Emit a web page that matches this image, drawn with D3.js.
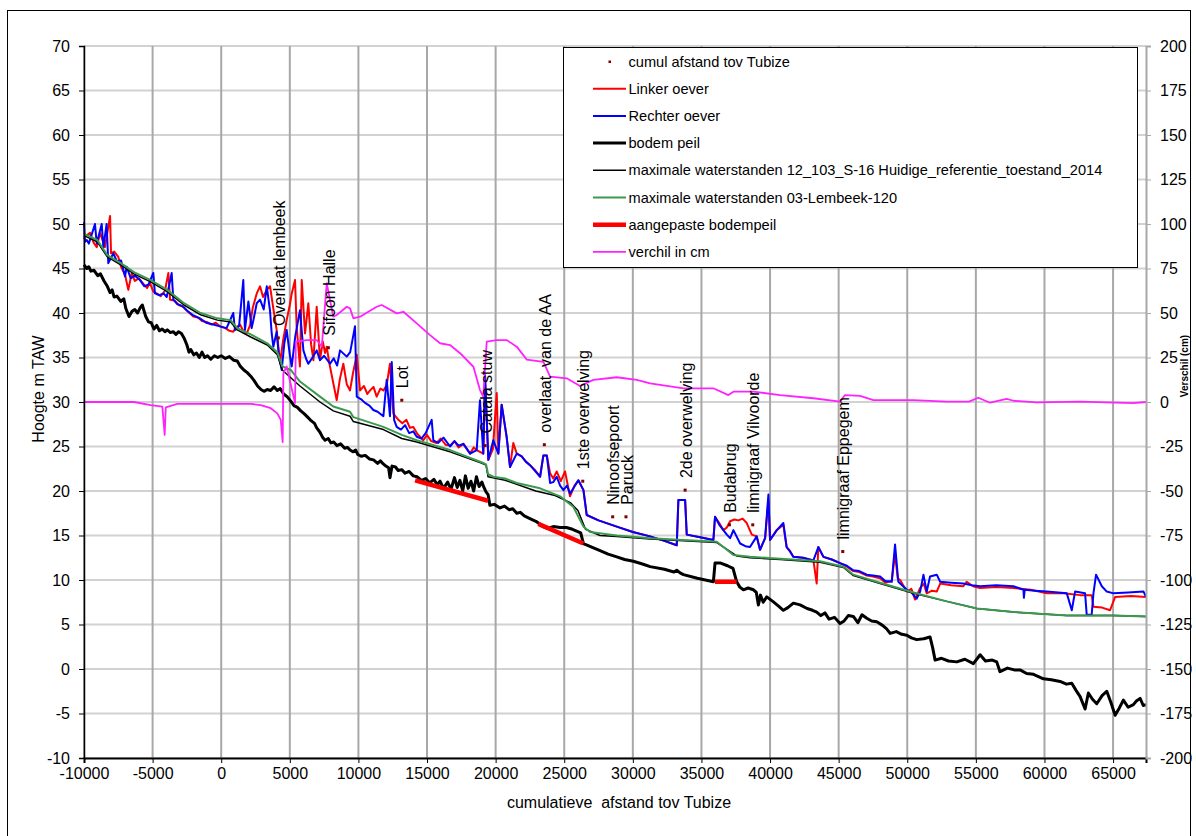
<!DOCTYPE html>
<html>
<head>
<meta charset="utf-8">
<script src="https://cdn.jsdelivr.net/npm/d3@7"></script>
<style>
  body { margin: 0; background: #fff; }
  svg { display: block; font-family: "Liberation Sans", Arial, sans-serif; }
  .lbl { white-space: pre; }
</style>
</head>
<body>
<div id="chart"></div>
<script>
// ---- data ----
// x = cumulatieve afstand tov Tubize (m), y = hoogte m TAW
const linkerOever = [[-10000,48.3],[-9930,48.6],[-9560,49.0],[-9300,47.9],[-9070,47.4],[-8830,49.0],[-8470,47.4],[-8100,50.9],[-8030,46.7],[-7800,46.9],[-7500,46.3],[-7300,45.2],[-7010,44.3],[-6770,42.6],[-6520,44.5],[-6300,43.6],[-6000,43.9],[-5680,43.3],[-5400,42.8],[-5200,43.4],[-4950,42.4],[-4700,42.2],[-4400,41.9],[-4100,42.5],[-3850,44.5],[-3730,41.5],[-3400,41.4],[-3100,40.9],[-2760,40.7],[-2400,40.1],[-2030,39.6],[-1700,39.5],[-1400,39.1],[-1060,39.0],[-700,38.7],[-400,38.9],[-90,38.5],[300,38.3],[600,38.0],[880,37.9],[1100,38.4],[1370,38.7],[1600,38.0],[1860,37.7],[2100,38.6],[2300,40.6],[2590,42.2],[2830,43.0],[3050,41.8],[3320,42.6],[3560,43.0],[3800,40.5],[4040,38.1],[4290,34.4],[4500,36.8],[4770,39.2],[5000,40.9],[5140,42.2],[5380,43.7],[5500,38.4],[5740,34.0],[5870,43.7],[6110,37.7],[6350,41.1],[6550,36.5],[6720,34.7],[6960,40.7],[7200,34.7],[7400,36.8],[7570,35.5],[7690,36.2],[7900,34.2],[8170,32.1],[8420,30.2],[8650,32.6],[8900,34.3],[9150,32.0],[9390,31.3],[9600,33.2],[9880,35.3],[10120,31.3],[10400,31.8],[10650,30.9],[10850,31.3],[11100,31.7],[11330,30.6],[11600,31.5],[11820,31.3],[12060,31.9],[12300,34.3],[12550,28.7],[12910,28.0],[13200,27.6],[13500,28.0],[13750,27.1],[14000,27.2],[14300,26.4],[14730,25.7],[15000,26.3],[15300,25.6],[15700,25.4],[16000,25.9],[16350,25.2],[16680,25.1],[17000,25.6],[17300,24.9],[17650,25.3],[18140,24.2],[18400,24.9],[18620,24.6],[19100,24.2],[19230,32.5],[19470,23.5],[19800,24.7],[20080,31.0],[20200,24.2],[20440,29.7],[20800,26.1],[21050,22.7],[21290,25.4],[21540,24.2],[21900,23.9],[22200,23.3],[22510,22.9],[22900,22.3],[23240,21.6],[23480,24.0],[23730,24.0],[23970,22.0],[24200,21.4],[24450,22.2],[24750,21.1],[25060,22.2],[25420,19.4],[25750,20.6],[26030,21.2],[26400,20.1],[26640,17.3],[27500,16.7],[28830,16.0],[30000,15.4],[31260,14.9],[32300,14.4],[33200,13.9],[33320,19.0],[33810,19.0],[33930,15.1],[34900,14.8],[35870,14.5],[35990,17.1],[36300,16.4],[36600,15.6],[36850,15.9],[37090,16.6],[37400,16.8],[37690,16.7],[38000,16.9],[38300,16.4],[38670,15.1],[39030,14.9],[39270,13.4],[39640,14.7],[39880,19.0],[40000,14.5],[40490,15.6],[40970,16.2],[41210,13.7],[41450,13.3],[41700,12.6],[42400,12.5],[43160,12.2],[43400,9.6],[43520,13.7],[43890,12.6],[44500,12.3],[45100,11.9],[45600,11.5],[46070,11.0],[46500,10.9],[47050,10.5],[47500,10.4],[48020,10.2],[48400,9.7],[48870,9.9],[49110,13.0],[49300,10.2],[49480,10.0],[49970,8.7],[50300,9.0],[50570,7.8],[50940,9.1],[51200,9.6],[51420,8.5],[51800,8.8],[52150,8.7],[52400,9.6],[53200,9.4],[54090,9.3],[54330,9.8],[54800,9.3],[55310,9.1],[56500,9.2],[57740,9.1],[59000,8.9],[60170,8.5],[61400,8.5],[62600,8.3],[63440,8.3],[63570,7.0],[64200,6.9],[64780,6.6],[65150,8.1],[66300,8.2],[67400,8.1]];

const rechterOever = [[-10000,50.2],[-9930,48.0],[-9800,48.2],[-9650,47.8],[-9200,50.0],[-9070,47.8],[-8710,50.0],[-8590,47.4],[-8350,50.0],[-8230,45.6],[-7860,46.7],[-7600,45.8],[-7300,45.9],[-7010,44.1],[-6890,45.2],[-6600,43.9],[-6300,44.2],[-5920,43.7],[-5600,43.0],[-5300,43.2],[-4950,44.5],[-4830,42.2],[-4500,42.0],[-4200,42.2],[-3970,41.8],[-3610,44.5],[-3490,41.5],[-3200,41.0],[-2850,40.8],[-2520,40.3],[-2100,39.8],[-1550,39.4],[-1100,38.9],[-580,38.7],[-100,38.5],[390,38.3],[880,40.0],[1000,38.1],[1300,38.5],[1610,43.7],[1730,38.1],[1980,41.3],[2220,38.3],[2400,39.6],[2590,41.1],[2830,41.5],[3100,40.4],[3320,43.0],[3560,40.2],[3680,37.7],[3800,36.2],[4040,37.9],[4200,35.2],[4410,33.6],[4600,36.6],[4770,38.1],[5000,35.3],[5140,34.0],[5400,37.4],[5740,40.3],[5990,35.8],[6200,34.8],[6350,34.3],[6700,35.1],[6960,35.8],[7200,34.7],[7500,35.2],[7930,34.3],[8200,34.9],[8450,34.1],[8660,35.8],[9150,35.1],[9400,35.6],[9750,38.5],[9880,30.6],[10200,30.3],[10480,29.9],[10800,29.6],[11090,29.1],[11400,28.9],[11820,28.4],[12060,32.5],[12300,28.4],[12430,34.5],[12600,28.0],[12790,27.2],[13100,26.9],[13400,27.4],[13700,26.5],[14000,26.7],[14250,26.1],[14600,25.9],[14900,26.5],[15340,28.0],[15460,25.7],[15800,25.4],[16200,26.0],[16680,25.0],[17000,25.6],[17300,25.1],[17650,25.3],[18140,24.2],[18620,24.6],[18860,30.2],[19100,24.2],[19230,33.0],[19470,23.5],[19830,25.7],[20200,24.2],[20440,29.7],[20800,26.1],[21050,22.7],[21540,24.2],[21900,23.9],[22200,23.3],[22510,22.9],[22900,22.2],[23240,21.6],[23480,24.0],[23730,24.0],[23970,20.9],[24200,21.0],[24450,21.6],[24700,20.6],[24940,20.1],[25200,20.6],[25420,19.7],[25700,20.4],[26030,21.2],[26400,20.1],[26640,17.3],[27500,16.7],[28830,16.0],[30000,15.4],[31260,14.9],[32300,14.4],[33200,13.9],[33320,19.0],[33810,19.0],[33930,15.1],[34900,14.8],[35870,14.5],[35990,17.1],[36300,16.2],[36600,15.6],[36850,15.1],[37090,14.7],[37330,15.6],[37820,14.1],[38200,13.8],[38540,13.7],[39030,14.9],[39270,13.4],[39640,14.7],[39880,19.6],[40000,14.5],[40490,15.6],[40970,16.4],[41210,13.7],[41450,13.2],[41700,12.6],[42400,12.5],[43160,12.2],[43520,13.7],[43890,12.6],[44500,12.3],[45100,11.9],[45600,11.6],[46070,11.1],[46500,11.0],[47050,10.6],[47500,10.5],[48020,10.4],[48400,9.9],[48870,9.8],[49110,14.0],[49350,9.8],[49970,8.9],[50300,8.6],[50690,7.9],[50940,8.7],[51180,10.6],[51420,8.7],[51660,10.4],[52150,10.6],[52400,9.8],[53200,9.7],[54090,9.6],[54700,9.4],[55310,9.3],[56500,9.4],[57740,9.3],[58470,8.9],[58500,8.0],[58560,8.9],[59300,8.8],[60170,8.7],[61630,8.5],[61990,6.6],[62230,8.7],[62960,8.5],[63080,6.1],[63440,6.1],[63570,8.5],[63760,10.6],[64180,9.3],[64540,8.7],[65030,8.5],[66100,8.6],[67220,8.7],[67400,8.1]];

const bodemPeil = [[-10000,45.4],[-9800,45.0],[-9650,45.2],[-9500,44.7],[-9270,44.8],[-9000,44.2],[-8800,44.4],[-8540,43.6],[-8300,43.0],[-8100,42.3],[-7950,42.6],[-7810,41.8],[-7600,41.9],[-7320,41.3],[-7100,41.6],[-6950,40.5],[-6720,39.6],[-6500,40.2],[-6300,40.4],[-6100,40.0],[-5900,40.6],[-5750,40.9],[-5500,39.6],[-5300,39.0],[-5100,38.9],[-4900,38.2],[-4700,38.6],[-4500,38.0],[-4300,38.2],[-4100,37.9],[-3930,38.1],[-3700,37.8],[-3500,37.9],[-3300,37.6],[-3100,37.9],[-2900,37.7],[-2710,37.2],[-2500,36.4],[-2350,35.6],[-2220,35.9],[-2000,35.3],[-1800,35.5],[-1600,35.0],[-1400,35.6],[-1200,35.0],[-1000,35.2],[-760,34.8],[-500,35.2],[-250,35.0],[0,35.2],[300,34.9],[600,35.1],[900,34.7],[1170,34.6],[1400,34.0],[1650,33.6],[1900,33.3],[2150,32.9],[2400,32.4],[2650,31.8],[2900,31.4],[3120,31.2],[3350,31.4],[3600,31.3],[3850,31.7],[4090,31.3],[4300,31.5],[4550,30.9],[4800,30.6],[5070,30.1],[5300,29.6],[5550,29.4],[5800,29.0],[6040,28.7],[6300,28.3],[6550,27.9],[6800,27.6],[6960,27.1],[7200,26.6],[7400,26.0],[7570,25.7],[7800,25.9],[8000,25.4],[8200,25.5],[8430,25.1],[8700,25.3],[9000,24.8],[9200,24.9],[9390,24.6],[9600,24.4],[9800,24.6],[9960,24.1],[10200,23.9],[10500,24.0],[10800,23.6],[11100,23.5],[11400,23.1],[11600,23.4],[11770,23.1],[12000,22.8],[12200,22.6],[12300,21.5],[12450,22.8],[12700,22.7],[12900,22.3],[13160,22.4],[13400,22.0],[13700,22.2],[14000,21.7],[14270,21.6],[14600,21.2],[14900,21.4],[15200,20.9],[15500,21.3],[15750,20.7],[15950,21.1],[16200,20.3],[16500,21.0],[16750,20.2],[17000,21.5],[17200,20.4],[17400,21.2],[17600,20.0],[17800,21.7],[18000,20.3],[18200,21.1],[18400,20.0],[18600,21.6],[18800,20.5],[19000,21.0],[19150,20.4],[19300,19.9],[19450,19.6],[19580,18.4],[19900,18.5],[20320,18.1],[20650,18.3],[20980,17.9],[21250,18.0],[21540,17.5],[21800,17.6],[22090,17.2],[22500,16.9],[22930,16.6],[23110,16.4],[23450,16.0],[23770,15.8],[24200,16.0],[24700,15.9],[25160,15.9],[25600,15.7],[25900,15.5],[26200,15.3],[26400,14.1],[27000,13.7],[27610,13.3],[28200,12.9],[28830,12.6],[29400,12.3],[30040,12.1],[30700,11.8],[31260,11.5],[32300,11.2],[33000,10.9],[33200,11.1],[33440,10.8],[33690,10.6],[34700,10.2],[35870,9.8],[35990,11.9],[36400,11.9],[36900,11.6],[37300,11.3],[37570,9.8],[37800,9.2],[38060,8.9],[38400,9.1],[38790,8.9],[39000,8.6],[39150,7.2],[39300,8.3],[39500,7.5],[39760,8.1],[40200,7.6],[40600,7.1],[40970,6.6],[41300,6.9],[41700,7.4],[42190,7.2],[42700,6.8],[43100,6.6],[43400,6.4],[43700,6.0],[44000,6.3],[44300,5.6],[44700,5.8],[45100,5.1],[45400,5.4],[45700,6.0],[46070,5.9],[46400,5.2],[46700,6.1],[47050,5.7],[47400,5.4],[47780,5.3],[48200,4.9],[48500,4.5],[48750,4.0],[49200,4.2],[49600,3.9],[49970,3.8],[50300,3.5],[50690,3.3],[51200,3.4],[51660,3.6],[51850,2.4],[52030,1.0],[52500,1.2],[53000,0.9],[53610,0.8],[54200,1.1],[54820,0.6],[55310,1.6],[55700,0.9],[56200,1.0],[56520,0.8],[56760,-0.3],[57300,0.1],[57800,-0.1],[58220,-0.1],[58700,-0.5],[59200,-0.6],[59920,-1.1],[60500,-1.2],[61140,-1.4],[61600,-1.7],[61990,-1.6],[62300,-2.4],[62600,-3.1],[62960,-4.5],[63200,-2.7],[63500,-3.4],[63810,-3.9],[64200,-3.0],[64540,-2.5],[64850,-3.8],[65150,-5.2],[65450,-4.4],[65750,-3.5],[66100,-4.3],[66480,-4.0],[66700,-3.6],[66970,-3.3],[67200,-4.1],[67400,-4.0]];

const maxRef2014 = [[-10000,48.7],[-9030,48.0],[-8300,46.3],[-7320,45.4],[-6360,44.4],[-5140,43.5],[-3930,42.4],[-2710,40.9],[-1500,39.8],[-280,39.2],[690,39.0],[1170,38.1],[2150,37.3],[3360,36.4],[4090,35.3],[4450,33.6],[5230,32.5],[5740,31.8],[7200,30.0],[8170,29.0],[9390,28.4],[9630,27.8],[11820,26.9],[13160,25.9],[14250,25.5],[16680,24.4],[19010,23.1],[19300,22.9],[19450,21.6],[20690,21.2],[22930,20.0],[24330,19.5],[25440,18.7],[26000,17.8],[26550,15.7],[27610,15.0],[28830,14.9],[31260,14.6],[33690,14.4],[36120,14.2],[37570,12.7],[38540,12.5],[40730,12.3],[43640,12.0],[45350,11.4],[46070,10.5],[48020,9.6],[50450,8.5],[52880,7.6],[55070,6.8],[57740,6.4],[61630,6.0],[65030,6.0],[67400,5.9]];

const maxLembeek120 = [[-10000,48.9],[-9030,48.2],[-8300,46.5],[-7320,45.6],[-6360,44.6],[-5140,43.7],[-3930,42.6],[-2710,41.1],[-1500,40.0],[-280,39.4],[690,39.2],[1170,38.3],[2150,37.6],[3360,36.6],[4090,35.6],[4450,34.0],[5070,33.6],[5740,32.3],[7200,30.6],[8170,29.5],[9390,28.9],[9630,28.3],[11820,27.2],[13160,26.3],[14250,25.7],[16680,24.6],[19010,23.2],[19300,23.0],[19450,21.9],[19830,21.6],[20690,21.4],[21540,20.9],[23240,20.3],[24700,19.4],[25670,18.2],[26400,16.0],[26880,15.4],[28830,15.0],[31260,14.7],[33690,14.5],[36120,14.3],[37330,12.8],[38540,12.6],[40730,12.4],[43640,12.1],[45350,11.5],[46070,10.6],[48020,9.7],[50450,8.6],[52880,7.6],[55070,6.8],[57740,6.4],[61630,6.0],[65030,6.0],[67400,5.9]];

// null = gap between the adjusted stretches
const aangepasteBodem = [[14130,21.2],[19450,18.9],null,[23110,16.3],[26400,14.1],null,[35990,9.8],[37570,9.8]];

// verschil in cm (right axis)
const verschilCm = [[-10000,0],[-6360,0],[-5140,-1.7],[-4290,-2.6],[-4120,-18.5],[-4040,-3],[-3200,-1.1],[-280,-1.1],[2150,-1.1],[2880,-1.7],[3610,-3.5],[4090,-6.4],[4340,-10],[4480,-22.5],[4530,16.1],[4770,20],[5380,-0.6],[5440,33.9],[6230,34.8],[6960,34.8],[7330,31.1],[7690,66.7],[8170,47.9],[8420,48.9],[9150,53.5],[9390,52.6],[9630,47],[10120,47.9],[11330,53.5],[11700,54.5],[12790,49.8],[13280,50.7],[14250,44.2],[15220,37.6],[15950,33],[16680,32],[17410,27.4],[18380,19.8],[18860,6.7],[19100,3.0],[19350,33.9],[20080,34.8],[20800,34.8],[21540,31.1],[22270,23.8],[23480,22.6],[23970,14.2],[25180,13.3],[26150,9.0],[27120,12.4],[28830,13.9],[30290,12.4],[31260,10.5],[33690,7.7],[35870,7.7],[36960,3.9],[37330,5.8],[38790,5.8],[40730,3.9],[43160,2.1],[45100,0.2],[45470,3.9],[46560,3.4],[47530,1.1],[50450,1.1],[52880,0.2],[54500,0.2],[55180,2.4],[56030,-0.4],[57250,1.7],[57740,0.7],[59430,-0.2],[62600,0.2],[66480,-0.6],[67400,0]];

// cumul afstand tov Tubize: named locations
const locNames = ["Overlaat lembeek", "Sifoon Halle", "Lot", "Catala stuw", "overlaat  van de AA", "1ste overwelving", "Ninoofsepoort", "Paruck", "2de overwelving", "Budabrug", "limnigraaf Vilvoorde", "limnigraaf Eppegem"];
const locX = [4160, 7810, 13160, 19230, 23550, 26350, 28530, 29500, 33810, 37040, 38740, 45300];
const locY = [37.2, 36.1, 30.2, 25.1, 25.2, 21.1, 17.1, 17.1, 20.1, 16.2, 16.2, 13.2];

const xTicks = d3.range(-10000, 65001, 5000);
const yTicks = d3.range(-10, 71, 5);
const y2Ticks = d3.range(-200, 201, 25);

const legendNames = ["cumul afstand tov Tubize", "Linker oever", "Rechter oever", "bodem peil",
  "maximale waterstanden 12_103_S-16 Huidige_referentie_toestand_2014",
  "maximale waterstanden 03-Lembeek-120", "aangepaste bodempeil", "verchil in cm"];

// ---- chart ----
const W = 1196, H = 836;
const pLeft = 84, pRight = 1146, pTop = 46, pBottom = 758;

const svg = d3.select("#chart").append("svg")
  .attr("width", W).attr("height", H);

svg.append("rect").attr("x", 7.5).attr("y", 10.5).attr("width", 1183).attr("height", 840)
  .attr("fill", "#fff").attr("stroke", "#000").attr("stroke-width", 1);

const x = d3.scaleLinear().domain([-10000, 67400]).range([pLeft, pRight]);
const y = d3.scaleLinear().domain([-10, 70]).range([pBottom, pTop]);
const y2 = d3.scaleLinear().domain([-200, 200]).range([pBottom, pTop]);

// grid
svg.append("g").selectAll("line").data(yTicks).join("line")
  .attr("x1", pLeft).attr("x2", pRight)
  .attr("y1", d => y(d)).attr("y2", d => y(d))
  .attr("stroke", "#d2d2d2").attr("stroke-width", 2);
svg.append("g").selectAll("line").data(xTicks).join("line")
  .attr("x1", d => x(d)).attr("x2", d => x(d))
  .attr("y1", pTop).attr("y2", pBottom)
  .attr("stroke", "#a8a8a8").attr("stroke-width", 2);

const line = d3.line().defined(d => d).x(d => x(d[0])).y(d => y(d[1]));
const line2 = d3.line().x(d => x(d[0])).y(d => y2(d[1]));

function drawSeries(data, color, width, gen = line) {
  svg.append("path").datum(data)
    .attr("d", gen)
    .attr("fill", "none")
    .attr("stroke", color)
    .attr("stroke-width", width)
    .attr("stroke-linejoin", "round");
}

drawSeries(linkerOever, "#ff0000", 2);
drawSeries(rechterOever, "#0000ff", 2);
drawSeries(bodemPeil, "#000000", 3);
drawSeries(maxRef2014, "#000000", 1.5);
drawSeries(maxLembeek120, "#3c9a50", 2);
drawSeries(aangepasteBodem, "#ff0000", 4.5);
drawSeries(verschilCm, "#ff22ff", 1.8, line2);

// location points + labels
const locs = locNames.map((n, i) => ({name: n, x: locX[i], y: locY[i]}));
svg.append("g").selectAll("rect").data(locs).join("rect")
  .attr("x", d => x(d.x) - 1.5).attr("y", d => y(d.y) - 1.5)
  .attr("width", 3).attr("height", 3).attr("fill", "#800000");
svg.append("g").selectAll("text").data(locs).join("text")
  .attr("class", "lbl")
  .attr("transform", d => `translate(${x(d.x) + 1},${y(d.y) - 12}) rotate(-90)`)
  .attr("dy", "0.35em")
  .attr("font-size", 16)
  .attr("fill", "#000")
  .text(d => d.name);

// axes
const fmt = d => String(d);
const gx = svg.append("g").attr("transform", `translate(0,${pBottom})`)
  .call(d3.axisBottom(x).tickValues(xTicks).tickSize(5).tickPadding(5).tickFormat(fmt));
const gy = svg.append("g").attr("transform", `translate(${pLeft},0)`)
  .call(d3.axisLeft(y).tickValues(yTicks).tickSize(5).tickPadding(9).tickFormat(fmt));
const gy2 = svg.append("g").attr("transform", `translate(${pRight},0)`)
  .call(d3.axisRight(y2).tickValues(y2Ticks).tickSize(5).tickPadding(9).tickFormat(fmt));

[gx, gy, gy2].forEach(g => {
  g.selectAll("text").attr("font-size", 16).attr("font-family", "Liberation Sans, Arial, sans-serif").attr("fill", "#000");
});
gx.select(".domain").attr("stroke", "#000").attr("stroke-width", 2);
gx.selectAll(".tick line").attr("stroke", "#000");
gy.select(".domain").attr("stroke", "#000").attr("stroke-width", 1.5);
gy.selectAll(".tick line").attr("stroke", "#000");
gy2.select(".domain").attr("stroke", "#a8a8a8").attr("stroke-width", 2);
gy2.selectAll(".tick line").attr("stroke", "#a8a8a8");

// axis titles
svg.append("text").attr("x", 619).attr("y", 808)
  .attr("text-anchor", "middle").attr("font-size", 16).attr("class", "lbl")
  .text("cumulatieve  afstand tov Tubize");
svg.append("text").attr("transform", "translate(38,389) rotate(-90)")
  .attr("text-anchor", "middle").attr("dy", "0.35em").attr("font-size", 16)
  .text("Hoogte m TAW");
svg.append("text").attr("transform", "translate(1184,366) rotate(-90)")
  .attr("text-anchor", "middle").attr("dy", "0.35em").attr("font-size", 10)
  .attr("font-weight", "bold")
  .text("Verschil (cm)");

// legend
const lg = svg.append("g");
lg.append("rect").attr("x", 563.5).attr("y", 47.5).attr("width", 574).attr("height", 220)
  .attr("fill", "#fff").attr("stroke", "#000").attr("stroke-width", 1);
const legendStyle = [
  {color: "#800000", width: 0, dot: true},
  {color: "#ff0000", width: 2},
  {color: "#0000ff", width: 2},
  {color: "#000000", width: 3},
  {color: "#000000", width: 1.5},
  {color: "#3c9a50", width: 2},
  {color: "#ff0000", width: 4.5},
  {color: "#ff22ff", width: 1.8}
];
legendNames.forEach((name, i) => {
  const ly = 61.5 + i * 27.2;
  const s = legendStyle[i];
  if (s.dot) {
    lg.append("rect").attr("x", 608.5).attr("y", ly - 1).attr("width", 2.5).attr("height", 2.5).attr("fill", s.color);
  } else {
    lg.append("line").attr("x1", 593).attr("x2", 626).attr("y1", ly).attr("y2", ly)
      .attr("stroke", s.color).attr("stroke-width", s.width);
  }
  lg.append("text").attr("x", 628.5).attr("y", ly).attr("dy", "0.35em")
    .attr("font-size", 14.6).text(name);
});
</script>
</body>
</html>
